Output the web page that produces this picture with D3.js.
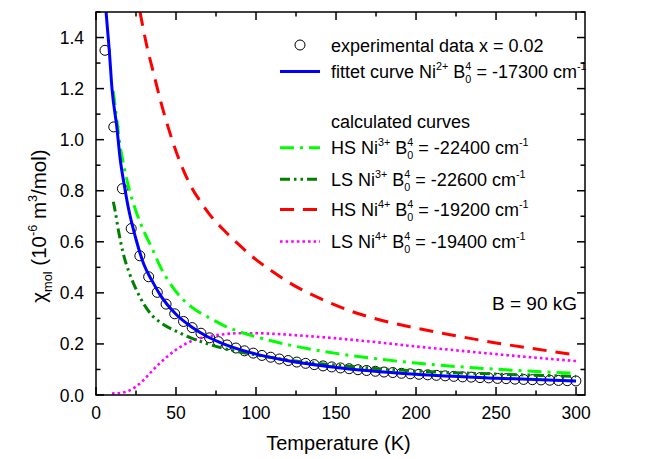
<!DOCTYPE html>
<html>
<head>
<meta charset="utf-8">
<script src="https://cdn.jsdelivr.net/npm/d3@7"></script>
<style>
  html, body { margin: 0; padding: 0; background: #fff; }
  svg { display: block; font-family: "Liberation Sans", Arial, sans-serif; }
</style>
</head>
<body>
<svg id="chart" width="645" height="459"></svg>
<script>
// ---------------- data ----------------
const xTickValues = [0, 50, 100, 150, 200, 250, 300];
const xMinorTicks = [25, 75, 125, 175, 225, 275];
const yTickValues = [0.0, 0.2, 0.4, 0.6, 0.8, 1.0, 1.2, 1.4];
const yMinorTicks = [0.1, 0.3, 0.5, 0.7, 0.9, 1.1, 1.3, 1.5];
const yTickLabels = ["0.0", "0.2", "0.4", "0.6", "0.8", "1.0", "1.2", "1.4"];

// experimental data x = 0.02
const T_exp = [5.6, 11.1, 16.5, 22.0, 27.4, 32.9, 38.3, 43.8, 49.2, 54.7, 60.1, 65.6, 71.0, 76.5, 81.9,
  87.4, 92.8, 98.3, 103.7, 109.2, 114.6, 120.1, 125.5, 131.0, 136.4, 141.9, 147.3, 152.8, 158.2, 163.7,
  169.1, 174.6, 180.0, 185.5, 190.9, 196.4, 201.8, 207.3, 212.7, 218.2, 223.6, 229.1, 234.5, 240.0, 245.4,
  250.9, 256.3, 261.8, 267.2, 272.7, 278.1, 283.6, 289.0, 294.5, 299.9];
const chi_exp = [1.350, 1.050, 0.808, 0.652, 0.545, 0.463, 0.402, 0.356, 0.318, 0.288, 0.264, 0.242, 0.224, 0.209, 0.196,
  0.184, 0.173, 0.164, 0.155, 0.148, 0.141, 0.135, 0.129, 0.124, 0.119, 0.114, 0.110, 0.106, 0.103, 0.099,
  0.096, 0.093, 0.090, 0.088, 0.085, 0.083, 0.081, 0.079, 0.077, 0.075, 0.073, 0.071, 0.070, 0.068, 0.067,
  0.065, 0.064, 0.062, 0.061, 0.060, 0.059, 0.058, 0.057, 0.056, 0.055];

// fitted curve Ni2+
const T_fit   = [6.3, 8.3, 10, 13, 15, 18, 20, 25, 30, 35, 40, 50, 60, 70, 80, 100, 120, 150, 200, 250, 300];
const chi_fit = [1.50, 1.35, 1.20, 1.05, 0.93, 0.81, 0.74, 0.61, 0.51, 0.448, 0.393, 0.316, 0.265, 0.227, 0.199, 0.160, 0.134, 0.108, 0.0815, 0.066, 0.0545];

// HS Ni3+
const T_hs3   = [10.8, 13, 15, 18, 21, 25, 30, 35, 40, 50, 60, 70, 80, 90, 100, 120, 150, 175, 200, 250, 300];
const chi_hs3 = [1.19, 1.08, 0.98, 0.88, 0.80, 0.72, 0.64, 0.575, 0.505, 0.405, 0.343, 0.305, 0.272, 0.247, 0.228, 0.197, 0.163, 0.142, 0.125, 0.101, 0.085];

// LS Ni3+
const T_ls3   = [10.8, 12, 14, 17, 21, 25, 30, 35, 40, 50, 60, 70, 80, 100, 120, 150, 200, 250, 300];
const chi_ls3 = [0.757, 0.72, 0.645, 0.555, 0.475, 0.415, 0.355, 0.312, 0.285, 0.25, 0.222, 0.200, 0.182, 0.157, 0.137, 0.117, 0.094, 0.082, 0.073];

// HS Ni4+
const T_hs4   = [27.5, 32, 36, 40, 45, 50, 55, 60, 65, 70, 80, 90, 100, 110, 120, 140, 160, 180, 200, 225, 250, 275, 300];
const chi_hs4 = [1.50, 1.36, 1.26, 1.16, 1.05, 0.955, 0.875, 0.81, 0.76, 0.715, 0.645, 0.585, 0.53, 0.485, 0.443, 0.378, 0.327, 0.29, 0.262, 0.232, 0.204, 0.18, 0.157];

// LS Ni4+
const T_ls4   = [10, 15, 20, 25, 30, 35, 40, 45, 50, 55, 60, 70, 80, 90, 100, 110, 125, 150, 175, 200, 225, 250, 275, 300];
const chi_ls4 = [0.006, 0.008, 0.015, 0.033, 0.06, 0.094, 0.125, 0.153, 0.177, 0.197, 0.212, 0.229, 0.238, 0.242, 0.242, 0.240, 0.234, 0.222, 0.207, 0.19, 0.175, 0.16, 0.146, 0.133];

// ---------------- layout ----------------
const svg = d3.select("#chart");
const L = 96, R = 585, Tp = 12, B = 395;
const x = d3.scaleLinear().domain([0, 305.6]).range([L, R]);
const y = d3.scaleLinear().domain([0, 1.5]).range([B, Tp]);
const FS = 18;      // legend text
const TFS = 17.5;   // tick labels

svg.append("defs").append("clipPath").attr("id", "clip")
  .append("rect").attr("x", L).attr("y", Tp).attr("width", R - L).attr("height", B - Tp);

const line = d3.line().x(d => x(d[0])).y(d => y(d[1])).curve(d3.curveMonotoneX);

const plot = svg.append("g").attr("clip-path", "url(#clip)");

// experimental circles
plot.selectAll("circle.exp").data(d3.zip(T_exp, chi_exp)).enter().append("circle")
  .attr("class", "exp").attr("cx", d => x(d[0])).attr("cy", d => y(d[1])).attr("r", 5)
  .attr("fill", "none").attr("stroke", "#000").attr("stroke-width", 1);

const series = [
  { T: T_ls4, c: chi_ls4, color: "#ff00ff", dash: "2.6,3", w: 2.6 },
  { T: T_hs4, c: chi_hs4, color: "#ff0000", dash: "14,9", w: 3 },
  { T: T_ls3, c: chi_ls3, color: "#008000", dash: "10,4,2.5,4,2.5,4", w: 3 },
  { T: T_hs3, c: chi_hs3, color: "#00ff00", dash: "14,6,3,6", w: 3 },
  { T: T_fit, c: chi_fit, color: "#0000ff", dash: null, w: 3 }
];
series.forEach(s => {
  plot.append("path").datum(d3.zip(s.T, s.c)).attr("d", line)
    .attr("fill", "none").attr("stroke", s.color).attr("stroke-width", s.w)
    .attr("stroke-dasharray", s.dash);
});

// ---------------- axes ----------------
const ax = svg.append("g").attr("stroke", "#000").attr("stroke-width", 1.5);
ax.append("rect").attr("x", L).attr("y", Tp).attr("width", R - L).attr("height", B - Tp).attr("fill", "none");
const MJ = 8, MN = 4.5;
xTickValues.concat(xMinorTicks).forEach(v => {
  const len = xTickValues.includes(v) ? MJ : MN;
  ax.append("line").attr("x1", x(v)).attr("x2", x(v)).attr("y1", B).attr("y2", B - len);
  ax.append("line").attr("x1", x(v)).attr("x2", x(v)).attr("y1", Tp).attr("y2", Tp + len);
});
yTickValues.concat(yMinorTicks).forEach(v => {
  const len = yTickValues.includes(v) ? MJ : MN;
  ax.append("line").attr("y1", y(v)).attr("y2", y(v)).attr("x1", L).attr("x2", L + len);
  ax.append("line").attr("y1", y(v)).attr("y2", y(v)).attr("x1", R).attr("x2", R - len);
});

const lab = svg.append("g").attr("fill", "#000").style("font-size", TFS + "px");
xTickValues.forEach(v => {
  lab.append("text").attr("x", x(v)).attr("y", B + 24).attr("text-anchor", "middle").text(String(v));
});
yTickValues.forEach((v, i) => {
  lab.append("text").attr("x", L - 12).attr("y", y(v) + 6.5).attr("text-anchor", "end").text(yTickLabels[i]);
});

// rich text helper
function rich(parent, px, py, segs, fs, anchor, transform, supScale) {
  const t = parent.append("text").attr("x", px).attr("y", py).style("font-size", fs + "px")
    .attr("text-anchor", anchor || "start");
  if (transform) t.attr("transform", transform);
  const ss = fs * (supScale || 0.6), up = fs * 0.42, down = fs * 0.3;
  let cur = 0;
  segs.forEach(s => {
    const kind = s[0];
    if (kind === "n") {
      t.append("tspan").attr("dy", -cur).style("font-size", fs + "px").text(s[1]);
      cur = 0;
    } else if (kind === "sup") {
      t.append("tspan").attr("dy", -up - cur).style("font-size", ss + "px").text(s[1]);
      cur = -up;
    } else if (kind === "sub") {
      t.append("tspan").attr("dy", down - cur).style("font-size", ss + "px").text(s[1]);
      cur = down;
    } else if (kind === "ss") {
      const a = t.append("tspan").attr("dy", -up - cur).style("font-size", ss + "px").text(s[1]);
      const w = a.node().getComputedTextLength();
      t.append("tspan").attr("dx", -w).attr("dy", up + down).style("font-size", ss + "px").text(s[2]);
      cur = down;
    }
  });
  return t;
}

// axis titles
rich(svg, (L + R) / 2 - 2, 450, [["n", "Temperature (K)"]], 20, "middle");
rich(svg, 0, 0, [["n", "\u03c7"], ["sub", "mol"], ["n", " (10"], ["sup", "-6"], ["n", " m"], ["sup", "3"], ["n", "/mol)"]],
  20.5, "middle", "translate(46,226) rotate(-90)", 0.62);

// ---------------- legend ----------------
const lg = svg.append("g");
const LX1 = 280, LX2 = 320, TX = 331;
lg.append("circle").attr("cx", 300).attr("cy", 45).attr("r", 5).attr("fill", "none").attr("stroke", "#000").attr("stroke-width", 1);
rich(lg, TX, 51.5, [["n", "experimental data x = 0.02"]], FS);
lg.append("line").attr("x1", LX1).attr("x2", LX2).attr("y1", 71.5).attr("y2", 71.5).attr("stroke", "#0000ff").attr("stroke-width", 3);
rich(lg, TX, 78, [["n", "fittet curve Ni"], ["sup", "2+"], ["n", " B"], ["ss", "4", "0"], ["n", " = -17300 cm"], ["sup", "-1"]], FS);
rich(lg, TX, 128, [["n", "calculated curves"]], FS);

const legRows = [
  { y: 147.7, color: "#00ff00", dash: "14,6,3,6", w: 3, segs: [["n", "HS Ni"], ["sup", "3+"], ["n", " B"], ["ss", "4", "0"], ["n", " = -22400 cm"], ["sup", "-1"]] },
  { y: 179.3, color: "#008000", dash: "10,4,2.5,4,2.5,4", w: 3, segs: [["n", "LS Ni"], ["sup", "3+"], ["n", " B"], ["ss", "4", "0"], ["n", " = -22600 cm"], ["sup", "-1"]] },
  { y: 209.5, color: "#ff0000", dash: "14,9", w: 3, segs: [["n", "HS Ni"], ["sup", "4+"], ["n", " B"], ["ss", "4", "0"], ["n", " = -19200 cm"], ["sup", "-1"]] },
  { y: 241.5, color: "#ff00ff", dash: "2.6,3", w: 2.6, segs: [["n", "LS Ni"], ["sup", "4+"], ["n", " B"], ["ss", "4", "0"], ["n", " = -19400 cm"], ["sup", "-1"]] }
];
legRows.forEach(r => {
  lg.append("line").attr("x1", LX1).attr("x2", LX2).attr("y1", r.y).attr("y2", r.y)
    .attr("stroke", r.color).attr("stroke-width", r.w).attr("stroke-dasharray", r.dash);
  rich(lg, TX, r.y + 6.3, r.segs, FS);
});

rich(svg, 492, 310, [["n", "B = 90 kG"]], 19);
</script>
</body>
</html>
